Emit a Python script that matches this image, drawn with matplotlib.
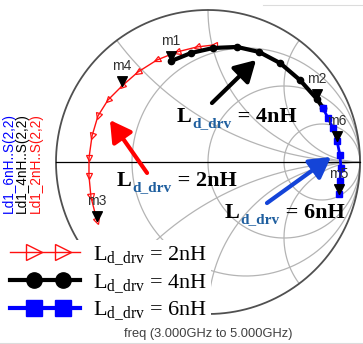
import matplotlib.pyplot as plt
import numpy as np
from matplotlib.lines import Line2D
from matplotlib.markers import MarkerStyle
from matplotlib.transforms import Affine2D
from matplotlib.legend_handler import HandlerLine2D

plt.rcParams['mathtext.fontset'] = 'custom'
plt.rcParams['mathtext.rm'] = 'Liberation Serif'
plt.rcParams['mathtext.it'] = 'Liberation Serif:italic'

# S(2,2), 3 GHz -> 5 GHz (reflection coefficient, re / im)
red_re = [0.039, -0.072, -0.204, -0.336, -0.461, -0.566, -0.658, -0.724, -0.763, -0.783, -0.783, -0.770, -0.730]
red_im = [0.770, 0.757, 0.724, 0.671, 0.592, 0.500, 0.408, 0.303, 0.171, 0.026, -0.092, -0.230, -0.388]
blk_re = [-0.243, -0.112, 0.033, 0.191, 0.336, 0.474, 0.605, 0.717, 0.757]
blk_im = [0.664, 0.717, 0.750, 0.757, 0.724, 0.651, 0.539, 0.414, 0.355]
blu_re = [0.757, 0.789, 0.822, 0.849, 0.868, 0.875, 0.868, 0.862]
blu_im = [0.355, 0.289, 0.224, 0.138, 0.046, -0.039, -0.125, -0.211]

# markers: name, trace, index
mk_names = ['m1', 'm2', 'm3', 'm4', 'm5', 'm6']
mk_trace = ['blk', 'blk', 'red', 'red', 'blu', 'blu']
mk_index = [0, 7, 12, 5, 7, 3]

trace_names = ['Ld1_6nH..S(2,2)', 'Ld1_4nH..S(2,2)', 'Ld1_2nH..S(2,2)']
legend_vals = ['2nH', '4nH', '6nH']

r_grid = [1 / 3, 1.0, 3.0]
x_grid = [0.5, 1.0, 2.0]

RED = '#ff1010'
BLUE = '#0000ff'
SUBC = '#1f5f9f'
SERIF = 'Liberation Serif'
SANS = 'Liberation Sans'


class FullLine(HandlerLine2D):
    # line over the whole handle, the two markers set in from the ends
    def create_artists(self, legend, orig_handle, xdescent, ydescent, width,
                       height, fontsize, trans):
        x0 = -xdescent
        xdata = [x0, x0 + 1.05 * fontsize, x0 + width - 0.78 * fontsize, x0 + width]
        ydata = np.full(4, (height - ydescent) / 2)
        legline = Line2D(xdata, ydata)
        self.update_prop(legline, orig_handle, legend)
        legline.set_markevery([1, 2])
        legline.set_transform(trans)
        return [legline]


fig = plt.figure(figsize=(3.63, 3.44), dpi=100)
ax = fig.add_axes([0, 0, 1, 1])
ax.set_xlim(-208 / 152, 155 / 152)
ax.set_ylim(-182 / 152, 162 / 152)
ax.axis('off')


def gam(z):
    return (z - 1) / (z + 1)


# smith grid
t = np.tan(np.linspace(-np.pi / 2 + 1e-4, np.pi / 2 - 1e-4, 600))
for r in r_grid:
    g = gam(r + 1j * t)
    ax.plot(g.real, g.imag, color='#b4b4b4', lw=0.9, zorder=1)
s = np.concatenate([[0], np.logspace(-3, 3, 500)])
for xv in x_grid:
    for sg in (1, -1):
        g = gam(s + 1j * sg * xv)
        ax.plot(g.real, g.imag, color='#b4b4b4', lw=0.9, zorder=1)
th = np.linspace(0, 2 * np.pi, 720)
ax.plot(np.cos(th), np.sin(th), color='#505050', lw=1.3, zorder=2)
ax.plot([-1, 1], [0, 0], color='black', lw=0.9, zorder=2)

# traces
ax.plot(red_re, red_im, color=RED, lw=1.0, zorder=4)
d_re = np.gradient(red_re)
d_im = np.gradient(red_im)
for xr, yr, dx, dy in zip(red_re, red_im, d_re, d_im):
    ang = np.degrees(np.arctan2(dy, dx))
    ms = MarkerStyle('>', transform=Affine2D().rotate_deg(ang))
    ax.plot(xr, yr, marker=ms, ms=4.5, mfc='none', mec=RED, mew=0.9, zorder=4)
ax.plot(blk_re, blk_im, color='black', lw=3, marker='o', ms=4.5, zorder=5)
ax.plot(blu_re, blu_im, color=BLUE, lw=2, marker='s', ms=4.5, zorder=5)

traces = {'red': (red_re, red_im), 'blk': (blk_re, blk_im), 'blu': (blu_re, blu_im)}
tri = [(0, 0), (-1, 2), (1, 2), (0, 0)]
for name, tr, i in zip(mk_names, mk_trace, mk_index):
    px, py = traces[tr][0][i], traces[tr][1][i]
    ax.plot(px, py, marker=tri, ms=14, color='black', mec='black', zorder=6)
    ax.annotate(name, (px, py), xytext=(0, 14.5), textcoords='offset points',
                ha='center', va='center', fontsize=10, family=SANS,
                color='#303030', zorder=6)

# arrows
ax.annotate('', xy=(0.316, 0.671), xytext=(0.026, 0.388),
            arrowprops=dict(arrowstyle='-|>,head_length=0.7,head_width=0.4',
                            lw=3, color='black', mutation_scale=18, shrinkA=0, shrinkB=0), zorder=7)
ax.annotate('', xy=(-0.645, 0.276), xytext=(-0.401, -0.072),
            arrowprops=dict(arrowstyle='-|>,head_length=0.7,head_width=0.4',
                            lw=3, color='red', mutation_scale=18, shrinkA=0, shrinkB=0), zorder=7)
ax.annotate('', xy=(0.809, 0.033), xytext=(0.388, -0.270),
            arrowprops=dict(arrowstyle='-|>,head_length=0.7,head_width=0.4',
                            lw=3, color='#1444d8', mutation_scale=18, shrinkA=0, shrinkB=0), zorder=7)


def label(x, y, val):
    t1 = ax.text(x, y, 'L', fontsize=16, fontweight='bold', family=SERIF,
                 va='baseline', zorder=8)
    t2 = ax.annotate('d_drv', xy=(1, 0), xycoords=t1, xytext=(0.5, -2.5),
                     textcoords='offset points', va='bottom', fontsize=11,
                     fontweight='bold', family=SERIF, color=SUBC, zorder=8)
    ax.annotate(' = ' + val, xy=(1, 0), xycoords=(t2, t1), va='bottom',
                fontsize=16, fontweight='bold', family=SERIF, zorder=8)


label(-0.204, 0.263, '4nH')
label(-0.599, -0.158, '2nH')
label(0.112, -0.368, '6nH')

# legend
handles = [
    Line2D([], [], color=RED, lw=1, marker='>', ms=12, mfc='none', mec=RED, mew=1),
    Line2D([], [], color='black', lw=3, marker='o', ms=11),
    Line2D([], [], color=BLUE, lw=3, marker='s', ms=11),
]
labels = [r'L$_{\rm d\_drv}$ = ' + v for v in legend_vals]
leg = ax.legend(handles, labels, loc='upper left', bbox_to_anchor=(6 / 363, 1 - 240 / 344),
                borderaxespad=0, frameon=True, fancybox=False, framealpha=1,
                facecolor='white', edgecolor='none', borderpad=0.2,
                handlelength=3.15, handletextpad=0.55, labelspacing=0.22,
                prop={'family': SERIF, 'size': 16},
                handler_map={Line2D: FullLine()})
leg.set_zorder(5.5)

# rotated trace names
for xf, name, c in zip([8.5, 21.5, 35.5], trace_names, [BLUE, 'black', RED]):
    ax.text(xf / 363, 1 - 213 / 344, name, rotation=90, ha='center', va='bottom',
            fontsize=9.8, family=SANS, color=c, transform=ax.transAxes)

ax.text(208 / 363, 1 - 334 / 344, 'freq (3.000GHz to 5.000GHz)', ha='center', va='center',
        fontsize=9.3, family=SANS, color='#404040', transform=ax.transAxes)
ax.plot([263 / 363, 1], [1 - 5 / 344] * 2, color='#dcdcdc', lw=0.8, transform=ax.transAxes)
ax.plot([0, 1], [1 - 342.5 / 344] * 2, color='#dcdcdc', lw=0.8, transform=ax.transAxes)

fig.savefig('out.png', dpi=100)
